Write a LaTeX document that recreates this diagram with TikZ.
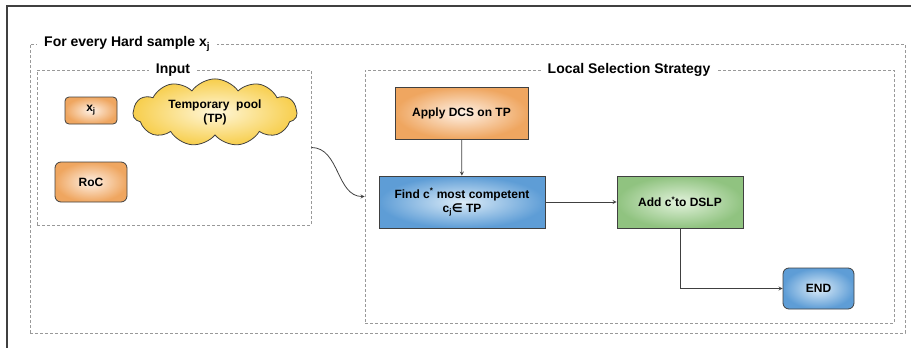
\documentclass[tikz,border=0pt]{standalone}
\usepackage{fontspec}
\setmainfont{Liberation Sans}
\newfontfamily\symbolfont{DejaVu Sans}
\usetikzlibrary{arrows, positioning, shapes.symbols}

\definecolor{orangeout}{HTML}{EFA660}
\definecolor{orangein}{HTML}{FEF1E6}
\definecolor{blueout}{HTML}{5E9DD6}
\definecolor{bluein}{HTML}{DCECF8}
\definecolor{greenout}{HTML}{90C380}
\definecolor{greenin}{HTML}{E2F2DC}
\definecolor{cloudout}{HTML}{F7CE4C}
\definecolor{cloudin}{HTML}{FFF7DA}
\definecolor{edgegray}{HTML}{404040}

\begin{document}
\begin{tikzpicture}[
        x=1pt, y=-1pt,
        >=stealth,
        box/.style={draw=edgegray, line width=0.8pt, align=center,
            font=\fontsize{12}{14}\selectfont\bfseries, inner sep=2pt},
        orangebox/.style={box, inner color=orangein, outer color=orangeout},
        bluebox/.style={box, inner color=bluein, outer color=blueout},
        greenbox/.style={box, inner color=greenin, outer color=greenout},
        groupbox/.style={draw=gray!80, line width=0.8pt, dash pattern=on 3pt off 2pt, inner sep=0pt},
        grouptitle/.style={fill=white, inner xsep=7pt, inner ysep=1pt,
            font=\fontsize{14}{16}\selectfont\bfseries},
        link/.style={->, draw=edgegray, line width=0.8pt}
    ]
        \useasboundingbox (0,0) rectangle (911,348);

        % Frame
        \draw[line width=1.1pt, black!75] (911,6) -- (7,6) -- (7,348);

        % Dashed groups
        \node[groupbox, minimum width=875, minimum height=289] (hard) at (467.5,188.5) {};
        \node[groupbox, minimum width=274, minimum height=155] (input) at (174,147.5) {};
        \node[groupbox, minimum width=529, minimum height=253] (lss) at (629.5,196.5) {};
        \node[grouptitle, anchor=west] (hardtitle) at (37,44) {For every Hard sample x\textsubscript{j}};
        \node[grouptitle] (inputtitle) at (173,70) {Input};
        \node[grouptitle] (lsstitle) at (629,70) {Local Selection Strategy};

        % Input
        \node[orangebox, rounded corners=4pt, minimum width=52, minimum height=27] (xj) at (91,110.5) {x\textsubscript{j}};
        \node[box, cloud, cloud puffs=11, cloud puff arc=110, aspect=2.8,
            inner color=cloudin, outer color=cloudout,
            minimum width=164, minimum height=59] (tp) at (215,112.5) {Temporary\ \ pool\\(TP)};
        \node[orangebox, rounded corners=6pt, minimum width=72, minimum height=40] (roc) at (91,182) {RoC};

        % Local selection
        \node[orangebox, minimum width=133, minimum height=52] (apply) at (461.5,113) {Apply DCS on TP};
        \node[bluebox, minimum width=166, minimum height=52] (find) at (462,202)
            {Find c\textsuperscript{*} most competent\\c\textsubscript{j}{\symbolfont\bfseries ∈} TP};
        \node[greenbox, minimum width=126, minimum height=52] (add) at (680,202) {Add c\textsuperscript{*}to DSLP};
        \node[bluebox, rounded corners=6pt, minimum width=71, minimum height=41] (end) at (818.5,288.5) {END};

        % Links
        \draw[link] (input.east) to[out=0, in=180] (lss.west);
        \draw[link] (apply) -- (find);
        \draw[link] (find) -- (add);
        \draw[link] (add.south) |- (end.west);
    \end{tikzpicture}
\end{document}
